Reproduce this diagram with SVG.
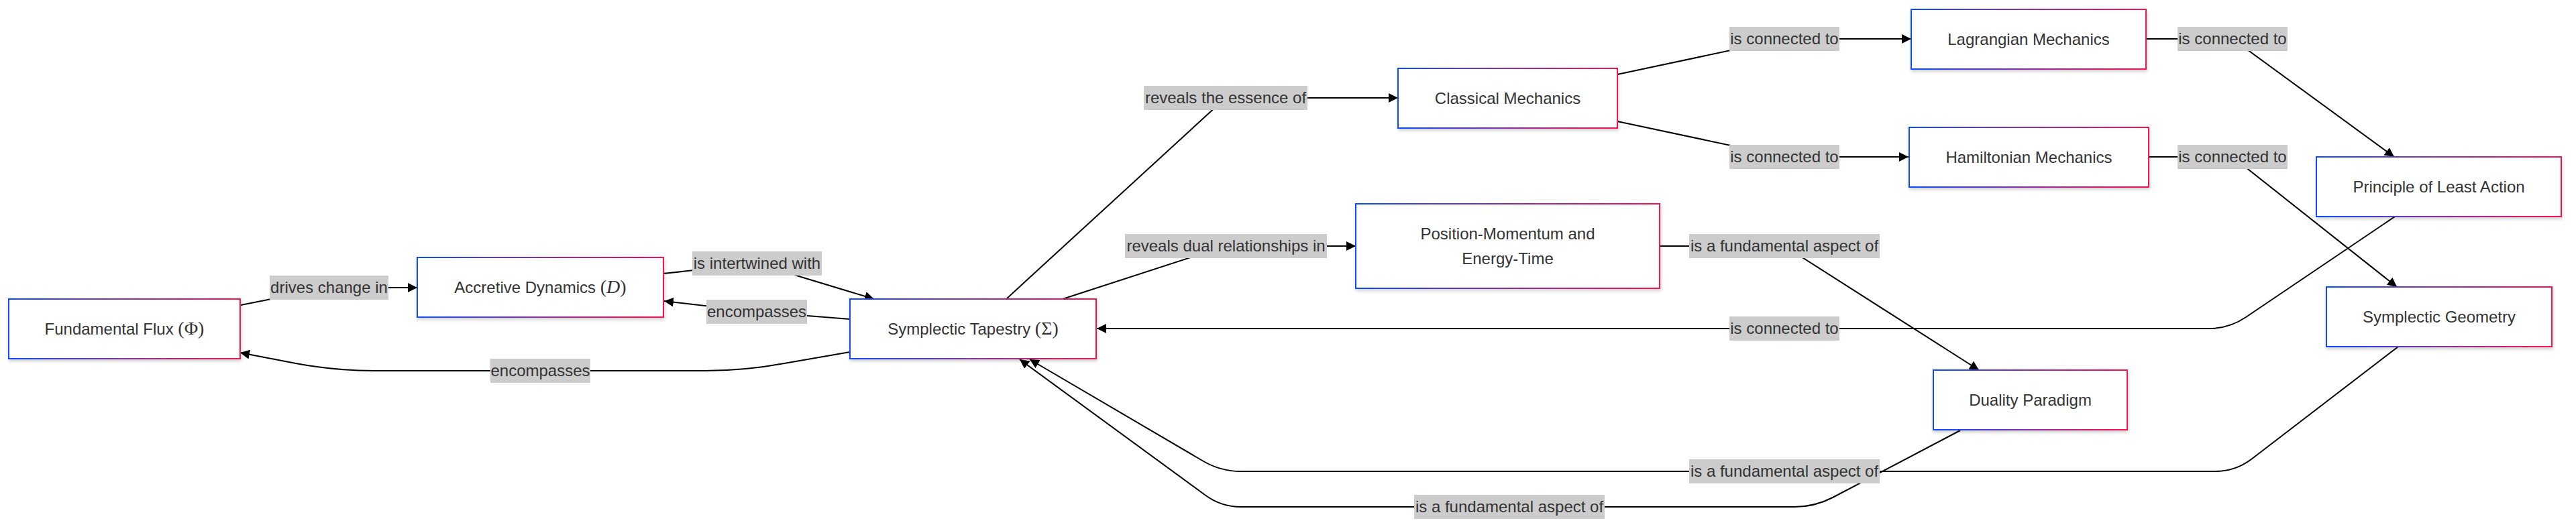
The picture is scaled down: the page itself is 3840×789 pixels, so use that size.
<svg xmlns="http://www.w3.org/2000/svg" width="3840" height="789" viewBox="0 0 3840 789">
<defs>
<linearGradient id="bord" x1="0" y1="0" x2="1" y2="0">
<stop offset="0" stop-color="#0a4bff"/>
<stop offset="0.5" stop-color="#8a2fa0"/>
<stop offset="1" stop-color="#f5124f"/>
</linearGradient>
<filter id="shadow" x="-10%" y="-20%" width="120%" height="150%">
<feDropShadow dx="1" dy="3" stdDeviation="2.5" flood-color="#000" flood-opacity="0.18"/>
</filter>
<marker id="arrow" viewBox="0 0 10 10" refX="10" refY="5" markerUnits="userSpaceOnUse" markerWidth="14" markerHeight="14" orient="auto">
<path d="M0,0 L10,5 L0,10 z" fill="#000"/>
</marker>
</defs>
<style>
.node rect{fill:#fff;stroke:url(#bord);stroke-width:2;filter:url(#shadow)}
.node text{font-family:"Liberation Sans",Arial,sans-serif;font-size:24px;fill:#333;text-anchor:middle}
.m{font-family:"Liberation Serif","DejaVu Serif",serif;font-size:28px}
.mi{font-family:"Liberation Serif","DejaVu Serif",serif;font-style:italic;font-size:28px}
.edges path{fill:none;stroke:#000;stroke-width:2;marker-end:url(#arrow)}
.lbl rect{fill:#cccccc}
.lbl text{font-family:"Liberation Sans",Arial,sans-serif;font-size:24px;fill:#333;text-anchor:middle}
</style>
<rect width="3840" height="789" fill="#fff"/>

<g id="edges" class="edges">
<path d="M359,455 L490,429 L622,429"/>
<path d="M989,408 L1128,393 L1303,446"/>
<path d="M1267,476 L1128,465 L990,449"/>
<path d="M1267,525 L1169,542 Q1110,553 1050,553 L560,553 Q500,553 441,542 L358,526"/>
<path d="M1500,446 L1827,146 L2084,146"/>
<path d="M1584,446 L1827,367 L2021,367"/>
<path d="M2411,111 L2660,58 L2849,58"/>
<path d="M2411,181 L2660,234 L2845,234"/>
<path d="M3199,58 L3328,58 L3569,234"/>
<path d="M3203,234 L3328,234 L3573,428"/>
<path d="M2474,367 L2660,367 L2950,552"/>
<path d="M3570,323 L3348,473 Q3323,490 3293,490 L1635,490"/>
<path d="M3575,517 L3356,685 Q3332,703 3302,703 L1850,703 Q1820,703 1794,688 L1535,536"/>
<path d="M2922,642 L2732,742 Q2705,756 2675,756 L1850,756 Q1820,756 1796,738 L1520,536"/>
</g>

<g id="edge-labels">
<g class="lbl"><rect x="402" y="411" width="177" height="36"/><text x="490.5" y="437">drives change in</text></g>
<g class="lbl"><rect x="1032" y="375" width="193" height="36"/><text x="1128.5" y="401">is intertwined with</text></g>
<g class="lbl"><rect x="1053" y="447" width="150" height="36"/><text x="1128" y="473">encompasses</text></g>
<g class="lbl"><rect x="731" y="535" width="149" height="36"/><text x="805.5" y="561">encompasses</text></g>
<g class="lbl"><rect x="1705" y="128" width="244" height="36"/><text x="1827" y="154">reveals the essence of</text></g>
<g class="lbl"><rect x="1677" y="349" width="301" height="36"/><text x="1827.5" y="375">reveals dual relationships in</text></g>
<g class="lbl"><rect x="2578" y="40" width="164" height="36"/><text x="2660" y="66">is connected to</text></g>
<g class="lbl"><rect x="2578" y="216" width="164" height="36"/><text x="2660" y="242">is connected to</text></g>
<g class="lbl"><rect x="3246" y="40" width="164" height="36"/><text x="3328" y="66">is connected to</text></g>
<g class="lbl"><rect x="3246" y="216" width="164" height="36"/><text x="3328" y="242">is connected to</text></g>
<g class="lbl"><rect x="2518" y="349" width="284" height="36"/><text x="2660" y="375">is a fundamental aspect of</text></g>
<g class="lbl"><rect x="2578" y="472" width="164" height="36"/><text x="2660" y="498">is connected to</text></g>
<g class="lbl"><rect x="2518" y="685" width="284" height="36"/><text x="2660" y="711">is a fundamental aspect of</text></g>
<g class="lbl"><rect x="2108" y="738" width="284" height="36"/><text x="2250" y="764">is a fundamental aspect of</text></g>
</g>

<g id="node-fundamental-flux" class="node"><rect x="13" y="446" width="345" height="89"/><text x="185.5" y="498.5">Fundamental Flux <tspan class="m">(Φ)</tspan></text></g>
<g id="node-accretive-dynamics" class="node"><rect x="622" y="384" width="367" height="89"/><text x="805.5" y="436.5">Accretive Dynamics <tspan class="m">(</tspan><tspan class="mi">D</tspan><tspan class="m">)</tspan></text></g>
<g id="node-symplectic-tapestry" class="node"><rect x="1267" y="446" width="367" height="89"/><text x="1450.5" y="498.5">Symplectic Tapestry <tspan class="m">(Σ)</tspan></text></g>
<g id="node-classical-mechanics" class="node"><rect x="2084" y="102" width="327" height="89"/><text x="2247.5" y="154.5">Classical Mechanics</text></g>
<g id="node-position-momentum" class="node"><rect x="2021" y="304" width="453" height="126"/><text x="2247.5" y="357">Position-Momentum and</text><text x="2247.5" y="394">Energy-Time</text></g>
<g id="node-lagrangian" class="node"><rect x="2849" y="14" width="350" height="89"/><text x="3024" y="66.5">Lagrangian Mechanics</text></g>
<g id="node-hamiltonian" class="node"><rect x="2846" y="190" width="357" height="89"/><text x="3024.5" y="242.5">Hamiltonian Mechanics</text></g>
<g id="node-least-action" class="node"><rect x="3453" y="234" width="365" height="89"/><text x="3635.5" y="286.5">Principle of Least Action</text></g>
<g id="node-symplectic-geometry" class="node"><rect x="3468" y="428" width="336" height="89"/><text x="3636" y="480.5">Symplectic Geometry</text></g>
<g id="node-duality" class="node"><rect x="2882" y="552" width="289" height="89"/><text x="3026.5" y="604.5">Duality Paradigm</text></g>
</svg>
